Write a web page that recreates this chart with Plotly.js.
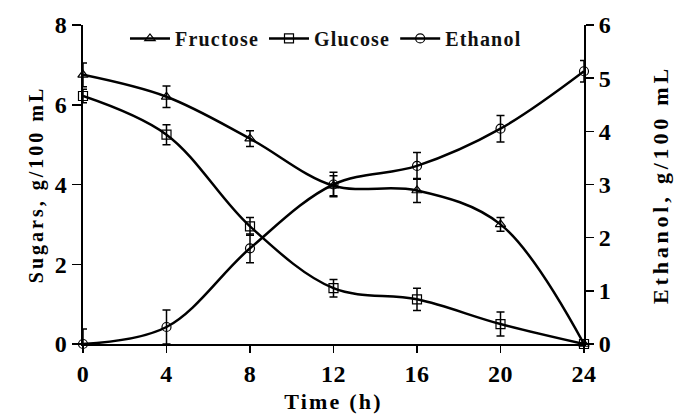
<!DOCTYPE html>
<html>
<head>
<meta charset="utf-8">
<script src="https://cdn.plot.ly/plotly-3.0.1.min.js"></script>
<style>
html,body{margin:0;padding:0;background:#fff;}
#chart{width:680px;height:419px;}
.xtick text,.ytick text,.y2tick text{letter-spacing:0.5px;}
.legendtext{letter-spacing:1.2px;}
.g-xtitle text{letter-spacing:2.2px;}
.g-ytitle text{letter-spacing:3px;}
.g-y2title text{letter-spacing:3.8px;}
</style>
</head>
<body>
<div id="chart"></div>
<script>
const timeH = [0, 4, 8, 12, 16, 20, 24];
const fructose = [6.75, 6.2, 5.15, 3.97, 3.85, 3.0, 0];
const fructoseErr = [0.3, 0.27, 0.2, 0.25, 0.3, 0.17, 0];
const glucose = [6.22, 5.25, 2.95, 1.4, 1.12, 0.5, 0];
const glucoseErr = [0.17, 0.25, 0.22, 0.22, 0.28, 0.3, 0];
const ethanol = [0, 0.32, 1.8, 3.0, 3.35, 4.05, 5.13];
const ethanolErr = [0.28, 0.32, 0.27, 0.23, 0.25, 0.25, 0.2];
const xTicks = [0, 4, 8, 12, 16, 20, 24];

const serif = "'Liberation Serif', 'Times New Roman', serif";
function mk(name, y, err, sym, yaxis) {
  return {
    x: timeH, y: y, name: name, type: 'scatter', mode: 'lines+markers',
    yaxis: yaxis,
    line: {color: '#000', width: 2.5, shape: 'spline', smoothing: 1},
    marker: {symbol: sym, size: 9, color: '#000', line: {color: '#000', width: 1.2}},
    error_y: {type: 'data', array: err, visible: true, color: '#000', thickness: 1.5, width: 4},
    cliponaxis: false
  };
}
const data = [
  mk('Fructose', fructose, fructoseErr, 'triangle-up-open', 'y'),
  mk('Glucose', glucose, glucoseErr, 'square-open', 'y'),
  mk('Ethanol', ethanol, ethanolErr, 'circle-open', 'y2')
];
const tickFont = {family: serif, size: 24, color: '#000', weight: 'bold'};
const layout = {
  width: 680, height: 419,
  margin: {l: 83, r: 96, t: 25, b: 75},
  paper_bgcolor: '#fff', plot_bgcolor: '#fff',
  showlegend: true,
  legend: {orientation: 'h', x: 0.485, xanchor: 'center', y: 0.958, yanchor: 'middle',
    font: {family: serif, size: 20, color: '#111', weight: 'bold'}, bgcolor: 'rgba(0,0,0,0)',
    itemwidth: 40, tracegroupgap: 0},
  xaxis: {range: [0, 24], tickvals: xTicks, ticks: 'outside', ticklen: 7, tickwidth: 1.5,
    tickcolor: '#000', showline: true, linecolor: '#000', linewidth: 2, showgrid: false,
    zeroline: false, tickfont: tickFont,
    title: {text: 'Time (h)', font: {family: serif, size: 22, color: '#000', weight: 'bold'}, standoff: 8}},
  yaxis: {range: [0, 8], dtick: 2, ticks: 'outside', ticklen: 9, tickwidth: 1.5,
    tickcolor: '#000', showline: true, linecolor: '#000', linewidth: 2, showgrid: false,
    zeroline: false, tickfont: tickFont,
    title: {text: 'Sugars, g/100 mL', font: {family: serif, size: 20, color: '#000', weight: 'bold'}, standoff: 6}},
  yaxis2: {range: [0, 6], dtick: 1, overlaying: 'y', side: 'right', ticks: 'outside',
    ticklen: 8, tickwidth: 1.5, tickcolor: '#000', showline: true, linecolor: '#000',
    linewidth: 2, showgrid: false, zeroline: false, tickfont: tickFont,
    title: {text: 'Ethanol, g/100 mL', font: {family: serif, size: 22, color: '#000', weight: 'bold'}, standoff: 42}}
};
Plotly.newPlot('chart', data, layout, {displayModeBar: false, staticPlot: true});
</script>
</body>
</html>
